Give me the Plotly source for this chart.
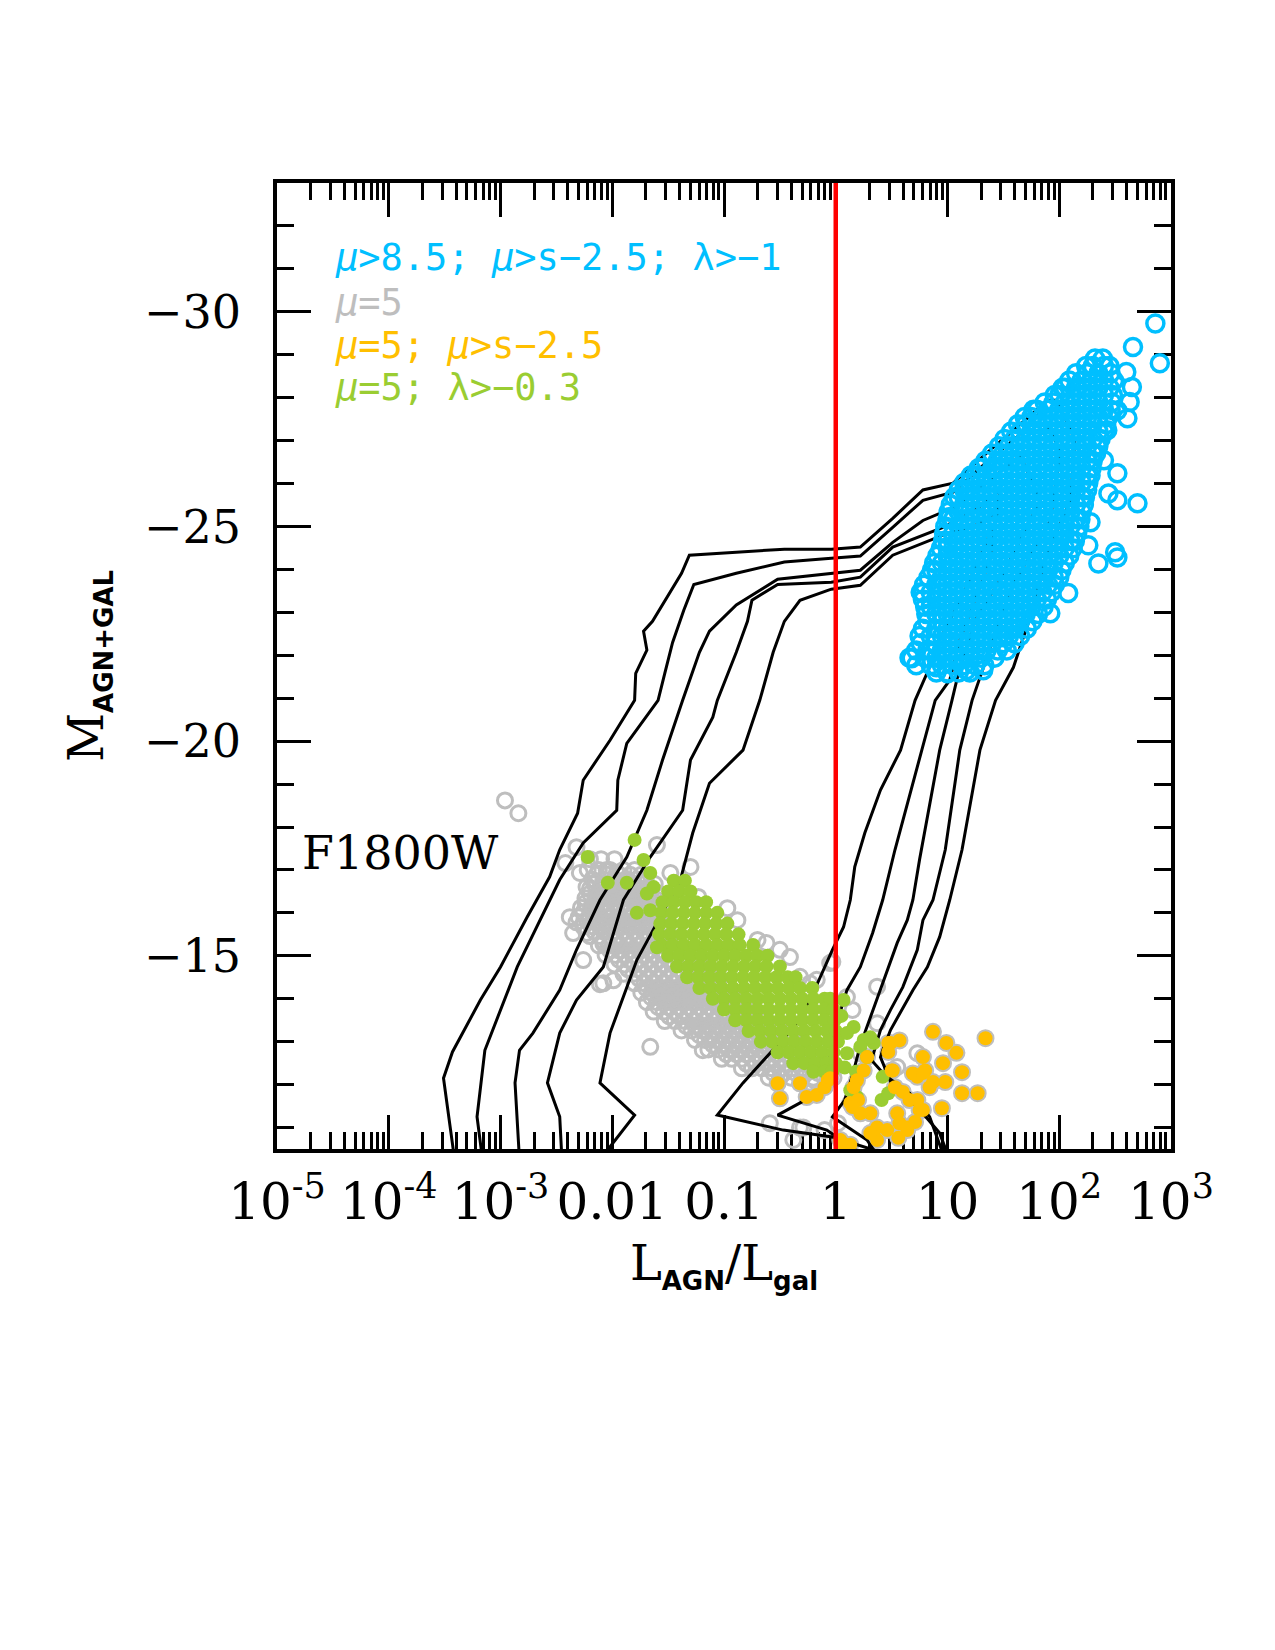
import plotly.graph_objects as go

# ---------------- data : log10(L_AGN/L_gal) and absolute magnitude ----------------
# evolutionary tracks (black lines)
TRACK_A_LX = [-3.41, -3.51, -3.43, -3.18, -3.00, -2.76, -2.56, -2.47, -2.31, -2.26, -2.02, -1.80, -1.79, -1.69, -1.72, -1.64,
              -1.38, -1.31, -0.89, -0.46, -0.04, 0.22, 0.51, 0.78, 1.05, 1.35, 1.62, 1.90, 1.98, 2.14, 2.10, 1.87,
              1.74, 1.59, 1.43, 1.29, 1.13, 1.02, 0.93, 0.82, 0.69, 0.58, 0.49, 0.42, 0.40, 0.51, 0.73, 0.93, 1.02]
TRACK_A_M = [-10.24, -12.15, -12.76, -13.97, -14.74, -15.91, -16.84, -17.47, -18.32, -19.09, -20.02, -20.95, -21.58, -22.12, -22.56, -22.79,
             -23.91, -24.33, -24.40, -24.47, -24.47, -24.52, -25.19, -25.85, -26.01, -26.71, -27.31, -27.94, -27.94, -27.01, -25.61, -24.22,
             -22.89, -21.72, -20.95, -19.79, -17.47, -16.30, -15.44, -14.74, -14.20, -13.67, -13.27, -12.80, -12.64, -11.94, -11.48, -10.87, -10.24]

TRACK_B_LX = [-3.16, -3.21, -3.14, -2.85, -2.47, -2.26, -1.96, -1.95, -1.87, -1.59, -1.53, -1.46, -1.36, -1.27, -0.89, -0.46,
              -0.04, 0.22, 0.51, 0.78, 1.05, 1.35, 1.62, 1.83, 2.01, 1.92, 1.56,
              1.32, 1.22, 1.11, 0.98, 0.87, 0.78, 0.73, 0.60, 0.49, 0.40, 0.32, 0.44, 0.66, 0.84, 0.98]
TRACK_B_M = [-10.24, -11.25, -12.80, -14.74, -16.77, -17.63, -18.39, -19.09, -19.95, -20.95, -21.58, -22.30, -23.05, -23.65, -23.91, -24.17,
             -24.26, -24.31, -24.98, -25.61, -25.80, -26.50, -27.08, -27.66, -26.77, -25.14, -23.52,
             -21.72, -20.95, -19.79, -17.47, -16.30, -15.83, -15.14, -14.27, -13.74, -13.27, -12.57, -12.22, -11.80, -11.25, -10.24]

TRACK_C_LX = [-2.83, -2.87, -2.83, -2.71, -2.47, -2.32, -2.11, -1.87, -1.69, -1.55, -1.37, -1.22, -1.13, -0.89, -0.52, -0.04,
              0.22, 0.51, 0.78, 1.11, 1.38, 1.65, 1.83, 1.47, 1.25,
              1.11, 1.04, 0.93, 0.75, 0.69, 0.64, 0.55, 0.42, 0.31, 0.22, 0.15, 0.08, -0.03, 0.28, 0.40]
TRACK_C_M = [-10.24, -12.04, -12.80, -13.20, -14.20, -15.14, -16.30, -17.30, -18.39, -19.56, -20.95, -22.07, -22.56, -23.17, -23.77, -23.91,
             -23.98, -24.63, -25.14, -25.50, -26.08, -26.66, -25.61, -23.75, -22.82,
             -21.72, -20.95, -19.79, -17.24, -16.30, -15.83, -15.30, -14.36, -13.57, -12.92, -12.22, -11.64, -11.25, -10.71, -10.24]

TRACK_D_LX = [-2.45, -2.47, -2.58, -2.47, -2.32, -2.08, -1.90, -1.66, -1.37, -1.30, -1.10, -1.06, -0.89, -0.79, -0.75, -0.52,
              -0.04, 0.22, 0.51, 0.96, 1.25, 1.47, 1.38, 1.11,
              1.02, 0.89, 0.77, 0.53, 0.42, 0.33, 0.22, 0.10, -0.01, -0.11, -0.52, -0.08, 0.31]
TRACK_D_M = [-10.24, -11.25, -12.04, -13.20, -13.97, -14.74, -16.30, -17.30, -18.39, -19.56, -20.56, -20.95, -22.07, -22.79, -23.28, -23.65,
             -23.70, -23.82, -24.52, -24.98, -25.38, -25.85, -24.22, -22.35,
             -21.42, -20.95, -19.79, -17.47, -16.30, -15.53, -14.74, -14.20, -13.27, -11.87, -11.29, -10.94, -10.24]

TRACK_E_LX = [-2.02, -2.02, -1.80, -2.11, -2.02, -1.78, -1.39, -1.28, -1.13, -0.83, -0.68, -0.56, -0.46, -0.32, -0.04, 0.22,
              0.51, 0.96, 1.25, 1.47, 1.20, 0.93,
              0.84, 0.71, 0.58, 0.40, 0.26, 0.17, 0.13, 0.07, -0.03, -0.17, -0.32, -0.59, -0.83, -1.06, -0.47, -0.03, 0.40, 0.58]
TRACK_E_M = [-10.24, -10.55, -11.29, -12.04, -13.20, -14.90, -16.77, -17.86, -19.02, -19.79, -20.95, -22.07, -22.79, -23.28, -23.54, -23.63,
             -24.33, -24.80, -25.03, -25.38, -23.75, -22.35,
             -21.72, -20.95, -19.79, -18.86, -17.86, -17.07, -16.30, -15.67, -15.14, -14.32, -13.50, -12.74, -12.04, -11.29, -10.94, -10.78, -10.43, -10.24]

TRACKS = [(TRACK_A_LX, TRACK_A_M), (TRACK_B_LX, TRACK_B_M), (TRACK_C_LX, TRACK_C_M),
          (TRACK_D_LX, TRACK_D_M), (TRACK_E_LX, TRACK_E_M)]

# mu>8.5; mu>s-2.5; lambda>-1   (blue open circles), rows of (M, [log10 ratio])
BLUE_ROWS = [
    (-21.60, [0.90, 1.00, 1.10, 1.20]),
    (-21.77, [0.72, 0.85, 0.95, 1.05, 1.15, 1.25, 1.33]),
    (-21.94, [0.66, 0.80, 0.90, 1.00, 1.10, 1.20, 1.30, 1.42]),
    (-22.11, [0.72, 0.85, 0.95, 1.05, 1.15, 1.25, 1.35, 1.45, 1.53]),
    (-22.28, [0.76, 0.89, 1.00, 1.10, 1.20, 1.30, 1.40, 1.50, 1.60]),
    (-22.45, [0.75, 0.85, 0.95, 1.05, 1.15, 1.25, 1.35, 1.45, 1.55, 1.65]),
    (-22.62, [0.78, 0.90, 1.00, 1.10, 1.20, 1.30, 1.40, 1.50, 1.60, 1.71]),
    (-22.79, [0.82, 0.95, 1.05, 1.15, 1.25, 1.35, 1.45, 1.55, 1.65, 1.76]),
    (-22.96, [0.81, 0.90, 1.00, 1.10, 1.20, 1.30, 1.40, 1.50, 1.60, 1.70, 1.81]),
    (-23.13, [0.80, 0.85, 0.95, 1.05, 1.15, 1.25, 1.35, 1.45, 1.55, 1.65, 1.75, 1.86]),
    (-23.30, [0.78, 0.90, 1.00, 1.10, 1.20, 1.30, 1.40, 1.50, 1.60, 1.70, 1.80, 1.89]),
    (-23.47, [0.76, 0.85, 0.95, 1.05, 1.15, 1.25, 1.35, 1.45, 1.55, 1.65, 1.75, 1.85, 1.93]),
    (-23.64, [0.79, 0.90, 1.00, 1.10, 1.20, 1.30, 1.40, 1.50, 1.60, 1.70, 1.80, 1.90, 1.96]),
    (-23.81, [0.83, 0.95, 1.05, 1.15, 1.25, 1.35, 1.45, 1.55, 1.65, 1.75, 1.85, 1.95, 2.00]),
    (-23.98, [0.86, 0.90, 1.00, 1.10, 1.20, 1.30, 1.40, 1.50, 1.60, 1.70, 1.80, 1.90, 2.02]),
    (-24.15, [0.88, 0.95, 1.05, 1.15, 1.25, 1.35, 1.45, 1.55, 1.65, 1.75, 1.85, 1.95, 2.05]),
    (-24.32, [0.91, 1.00, 1.10, 1.20, 1.30, 1.40, 1.50, 1.60, 1.70, 1.80, 1.90, 2.00, 2.09]),
    (-24.49, [0.94, 1.05, 1.15, 1.25, 1.35, 1.45, 1.55, 1.65, 1.75, 1.85, 1.95, 2.05, 2.12]),
    (-24.66, [0.96, 1.00, 1.10, 1.20, 1.30, 1.40, 1.50, 1.60, 1.70, 1.80, 1.90, 2.00, 2.10, 2.14]),
    (-24.83, [0.97, 1.05, 1.15, 1.25, 1.35, 1.45, 1.55, 1.65, 1.75, 1.85, 1.95, 2.05, 2.16]),
    (-25.00, [0.98, 1.10, 1.20, 1.30, 1.40, 1.50, 1.60, 1.70, 1.80, 1.90, 2.00, 2.10, 2.18]),
    (-25.17, [1.00, 1.05, 1.15, 1.25, 1.35, 1.45, 1.55, 1.65, 1.75, 1.85, 1.95, 2.05, 2.15, 2.19]),
    (-25.34, [1.01, 1.10, 1.20, 1.30, 1.40, 1.50, 1.60, 1.70, 1.80, 1.90, 2.00, 2.10, 2.20]),
    (-25.51, [1.03, 1.15, 1.25, 1.35, 1.45, 1.55, 1.65, 1.75, 1.85, 1.95, 2.05, 2.15, 2.22]),
    (-25.68, [1.06, 1.10, 1.20, 1.30, 1.40, 1.50, 1.60, 1.70, 1.80, 1.90, 2.00, 2.10, 2.20, 2.23]),
    (-25.85, [1.10, 1.15, 1.25, 1.35, 1.45, 1.55, 1.65, 1.75, 1.85, 1.95, 2.05, 2.15, 2.25]),
    (-26.02, [1.15, 1.20, 1.30, 1.40, 1.50, 1.60, 1.70, 1.80, 1.90, 2.00, 2.10, 2.20, 2.26]),
    (-26.19, [1.21, 1.25, 1.35, 1.45, 1.55, 1.65, 1.75, 1.85, 1.95, 2.05, 2.15, 2.25, 2.28]),
    (-26.36, [1.28, 1.30, 1.40, 1.50, 1.60, 1.70, 1.80, 1.90, 2.00, 2.10, 2.20, 2.29]),
    (-26.53, [1.34, 1.45, 1.55, 1.65, 1.75, 1.85, 1.95, 2.05, 2.15, 2.25, 2.30]),
    (-26.70, [1.40, 1.50, 1.60, 1.70, 1.80, 1.90, 2.00, 2.10, 2.20, 2.30, 2.33]),
    (-26.87, [1.46, 1.55, 1.65, 1.75, 1.85, 1.95, 2.05, 2.15, 2.25, 2.35]),
    (-27.04, [1.51, 1.60, 1.70, 1.80, 1.90, 2.00, 2.10, 2.20, 2.30, 2.37]),
    (-27.21, [1.57, 1.65, 1.75, 1.85, 1.95, 2.05, 2.15, 2.25, 2.35, 2.40]),
    (-27.38, [1.63, 1.70, 1.80, 1.90, 2.00, 2.10, 2.20, 2.30, 2.42]),
    (-27.55, [1.69, 1.75, 1.85, 1.95, 2.05, 2.15, 2.25, 2.35, 2.44]),
    (-27.72, [1.77, 1.80, 1.90, 2.00, 2.10, 2.20, 2.30, 2.40, 2.46]),
    (-27.89, [1.87, 1.95, 2.05, 2.15, 2.25, 2.35, 2.47]),
    (-28.06, [1.96, 2.00, 2.10, 2.20, 2.30, 2.40, 2.48]),
    (-28.23, [2.03, 2.05, 2.15, 2.25, 2.35, 2.45]),
    (-28.40, [2.09, 2.20, 2.30, 2.40, 2.49]),
    (-28.57, [2.15, 2.25, 2.35, 2.46]),
    (-28.74, [2.24, 2.30, 2.40, 2.45]),
    (-28.91, [2.32, 2.39]),
]
BLUE_EXTRA_LX = [2.86, 2.66, 2.90, 2.60, 2.65, 2.63, 2.61, 2.52, 2.43, 2.52, 2.40, 2.34, 2.52, 2.70, 2.44, 2.28, 2.26, 2.35,
                 2.52, 2.08, 1.92, 1.50, 1.32, 1.17, 1.00, 0.90, 0.68, 0.82, 0.78, 0.90, 1.02, 1.17, 1.00, 2.50]
BLUE_EXTRA_M = [-29.73, -29.18, -28.80, -28.60, -28.25, -27.90, -27.52, -27.70, -27.24, -26.24, -26.54, -26.85, -25.61, -25.54,
                -25.77, -25.10, -24.56, -24.14, -24.28, -23.45, -22.98, -22.42, -21.65, -21.65, -21.58, -21.72, -21.93, -22.12,
                -23.45, -22.98, -25.22, -25.85, -24.52, -24.40]

# mu=5 (grey open circles)
GRAY_ROWS = [
    (-17.25, [-2.20, -2.10, -1.98]),
    (-17.00, [-2.22, -2.12, -2.02, -1.90, -1.80]),
    (-16.89, [-2.14, -2.04, -1.94, -1.84, -1.74]),
    (-16.78, [-2.18, -2.08, -1.98, -1.88, -1.78, -1.70]),
    (-16.67, [-2.16, -2.07, -1.98, -1.89, -1.80, -1.71, -1.62]),
    (-16.56, [-2.20, -2.11, -2.02, -1.93, -1.84, -1.75, -1.66]),
    (-16.45, [-2.20, -2.11, -2.02, -1.93, -1.84, -1.75, -1.66, -1.58]),
    (-16.34, [-2.24, -2.15, -2.06, -1.97, -1.88, -1.79, -1.70, -1.62]),
    (-16.23, [-2.24, -2.15, -2.06, -1.97, -1.88, -1.79, -1.70, -1.61]),
    (-16.12, [-2.28, -2.19, -2.10, -2.01, -1.92, -1.83, -1.74, -1.65, -1.56]),
    (-16.01, [-2.26, -2.17, -2.08, -1.99, -1.90, -1.81, -1.72, -1.63]),
    (-15.90, [-2.30, -2.21, -2.12, -2.03, -1.94, -1.85, -1.76, -1.67, -1.58]),
    (-15.79, [-2.22, -2.13, -2.04, -1.95, -1.86, -1.77, -1.68, -1.59]),
    (-15.68, [-2.26, -2.17, -2.08, -1.99, -1.90, -1.81, -1.72, -1.63, -1.54]),
    (-15.57, [-2.16, -2.07, -1.98, -1.89, -1.80, -1.71, -1.62, -1.53]),
    (-15.46, [-2.20, -2.11, -2.02, -1.93, -1.84, -1.75, -1.66, -1.57, -1.48]),
    (-15.35, [-2.08, -1.99, -1.90, -1.81, -1.72, -1.63, -1.54, -1.45]),
    (-15.24, [-2.12, -2.03, -1.94, -1.85, -1.76, -1.67, -1.58, -1.49, -1.40]),
    (-15.13, [-2.02, -1.93, -1.84, -1.75, -1.66, -1.57, -1.48, -1.39, -1.30]),
    (-15.02, [-2.06, -1.97, -1.88, -1.79, -1.70, -1.61, -1.52, -1.43, -1.34, -1.25]),
    (-14.91, [-1.94, -1.85, -1.76, -1.67, -1.58, -1.49, -1.40, -1.31, -1.22]),
    (-14.80, [-1.98, -1.89, -1.80, -1.71, -1.62, -1.53, -1.44, -1.35, -1.26, -1.17]),
    (-14.69, [-1.86, -1.77, -1.68, -1.59, -1.50, -1.41, -1.32, -1.23, -1.14]),
    (-14.58, [-1.90, -1.81, -1.72, -1.63, -1.54, -1.45, -1.36, -1.27, -1.18, -1.09]),
    (-14.47, [-1.76, -1.67, -1.58, -1.49, -1.40, -1.31, -1.22, -1.13, -1.04]),
    (-14.36, [-1.80, -1.71, -1.62, -1.53, -1.44, -1.35, -1.26, -1.17, -1.08, -0.99]),
    (-14.25, [-1.70, -1.61, -1.52, -1.43, -1.34, -1.25, -1.16, -1.07, -0.98]),
    (-14.14, [-1.74, -1.65, -1.56, -1.47, -1.38, -1.29, -1.20, -1.11, -1.02, -0.93]),
    (-14.03, [-1.65, -1.56, -1.47, -1.38, -1.29, -1.20, -1.11, -1.02, -0.93, -0.84]),
    (-13.92, [-1.69, -1.60, -1.51, -1.42, -1.33, -1.24, -1.15, -1.06, -0.97, -0.88, -0.80]),
    (-13.81, [-1.59, -1.50, -1.41, -1.32, -1.23, -1.14, -1.05, -0.96, -0.87, -0.78]),
    (-13.70, [-1.63, -1.54, -1.45, -1.36, -1.27, -1.18, -1.09, -1.00, -0.91, -0.82, -0.73]),
    (-13.59, [-1.49, -1.40, -1.31, -1.22, -1.13, -1.04, -0.95, -0.86, -0.77, -0.68]),
    (-13.48, [-1.53, -1.44, -1.35, -1.26, -1.17, -1.08, -0.99, -0.90, -0.81, -0.72, -0.63]),
    (-13.37, [-1.34, -1.25, -1.16, -1.07, -0.98, -0.89, -0.80, -0.71, -0.62, -0.54]),
    (-13.26, [-1.38, -1.29, -1.20, -1.11, -1.02, -0.93, -0.84, -0.75, -0.66, -0.57, -0.50]),
    (-13.15, [-1.22, -1.13, -1.04, -0.95, -0.86, -0.77, -0.68, -0.59, -0.50, -0.42]),
    (-13.04, [-1.26, -1.17, -1.08, -0.99, -0.90, -0.81, -0.72, -0.63, -0.54, -0.45, -0.38]),
    (-12.93, [-1.10, -1.01, -0.92, -0.83, -0.74, -0.65, -0.56, -0.47, -0.38, -0.30]),
    (-12.82, [-1.14, -1.05, -0.96, -0.87, -0.78, -0.69, -0.60, -0.51, -0.42, -0.33, -0.26]),
    (-12.71, [-0.98, -0.89, -0.80, -0.71, -0.62, -0.53, -0.44, -0.35, -0.26, -0.17]),
    (-12.60, [-1.02, -0.93, -0.84, -0.75, -0.66, -0.57, -0.48, -0.39, -0.30, -0.21, -0.12]),
    (-12.49, [-0.80, -0.71, -0.62, -0.53, -0.44, -0.35, -0.26, -0.17, -0.08]),
    (-12.38, [-0.84, -0.75, -0.66, -0.57, -0.48, -0.39, -0.30, -0.21, -0.12, -0.04]),
    (-12.27, [-0.56, -0.46, -0.36, -0.26, -0.16, -0.06]),
    (-12.16, [-0.60, -0.50, -0.40, -0.30, -0.20, -0.10, -0.02]),
]
GRAY_EXTRA_LX = [-2.96, -2.84, -2.42, -2.32, -2.29, -2.23, -2.14, -2.38, -2.32, -2.35, -2.23, -2.26, -2.08, -2.08, -1.99, -2.17,
                 -2.05, -1.96, -1.90, -1.60, -1.48, -1.30, -1.23, -0.97, -0.88, -0.70, -0.62, -0.50, -0.41, -0.32, -0.17,
                 -0.05, -0.23, 0.10, 0.15, 0.37, 0.22, 0.37, 0.73, 0.55, -0.19, -0.32, -0.10, 0.02, -0.38, -0.29, -0.59,
                 -1.66, -1.19, -2.11, -0.03]
GRAY_EXTRA_M = [-18.62, -18.32, -17.16, -17.53, -16.93, -16.60, -16.71, -15.90, -15.78, -15.53, -15.53, -14.90, -15.28, -14.36,
                -14.43, -16.13, -17.00, -16.93, -16.70, -17.58, -16.93, -17.07, -16.37, -16.11, -15.83, -15.37, -15.30, -15.14,
                -14.97, -14.51, -14.44, -14.83, -14.36, -14.04, -13.74, -13.43, -12.73, -14.28, -12.73, -12.41, -12.10, -11.00,
                -10.94, -11.10, -10.71, -11.00, -11.10, -12.88, -12.80, -14.34, -14.86]

# mu=5; lambda>-0.3 (green filled)
GREEN_ROWS = [
    (-16.75, [-1.45, -1.35]),
    (-16.50, [-1.50, -1.40, -1.30]),
    (-16.25, [-1.55, -1.45, -1.35, -1.25, -1.16]),
    (-16.00, [-1.56, -1.46, -1.36, -1.26, -1.16, -1.06]),
    (-15.75, [-1.57, -1.47, -1.37, -1.27, -1.17, -1.07, -0.97]),
    (-15.50, [-1.58, -1.48, -1.38, -1.28, -1.18, -1.08, -0.98, -0.87]),
    (-15.25, [-1.56, -1.46, -1.36, -1.26, -1.16, -1.06, -0.96, -0.86, -0.74]),
    (-15.00, [-1.50, -1.40, -1.30, -1.20, -1.10, -1.00, -0.90, -0.80, -0.70, -0.61]),
    (-14.75, [-1.42, -1.32, -1.22, -1.12, -1.02, -0.92, -0.82, -0.72, -0.62, -0.50]),
    (-14.50, [-1.33, -1.23, -1.13, -1.03, -0.93, -0.83, -0.73, -0.63, -0.53, -0.43, -0.36]),
    (-14.25, [-1.22, -1.12, -1.02, -0.92, -0.82, -0.72, -0.62, -0.52, -0.42, -0.32, -0.21]),
    (-14.00, [-1.10, -1.00, -0.90, -0.80, -0.70, -0.60, -0.50, -0.40, -0.30, -0.20, -0.10, -0.05]),
    (-13.75, [-1.00, -0.90, -0.80, -0.70, -0.60, -0.50, -0.40, -0.30, -0.20, -0.10, -0.02]),
    (-13.50, [-0.90, -0.80, -0.70, -0.60, -0.50, -0.40, -0.30, -0.20, -0.10, -0.01]),
    (-13.25, [-0.78, -0.68, -0.58, -0.48, -0.38, -0.28, -0.18, -0.08, 0.00]),
    (-13.00, [-0.67, -0.57, -0.47, -0.37, -0.27, -0.17, -0.07, 0.02]),
    (-12.75, [-0.52, -0.42, -0.32, -0.22, -0.12, -0.02]),
    (-12.50, [-0.38, -0.28, -0.18, -0.08, 0.00]),
    (-12.30, [-0.20, -0.10, -0.03]),
]
GREEN_EXTRA_LX = [-1.80, -2.22, -1.72, -1.66, -2.04, -1.87, -1.63, -1.69, -1.66, -1.78, -1.60, 0.07, 0.16, 0.25, 0.34, 0.28,
                  0.10, 0.13, 0.19, 0.42, 0.41, 0.47, 0.10, 0.22, 0.31, 0.05, 0.08, 0.18]
GREEN_EXTRA_M = [-17.70, -17.30, -17.23, -16.93, -16.70, -16.70, -16.60, -16.45, -16.06, -16.00, -15.20, -13.97, -13.34, -13.04,
                 -12.97, -12.64, -12.73, -11.87, -11.71, -12.18, -11.64, -11.80, -13.20, -12.88, -13.10, -13.60, -12.40, -12.30]

# mu=5; mu>s-2.5 (orange filled)
ORANGE_LX = [0.87, 1.34, 0.99, 1.08, 0.78, 0.57, 0.47, 0.47, 0.96, 1.13, 0.50, 0.69, 0.80, 0.87, 0.98, 0.53, 0.60, 0.66,
             0.75, 0.95, 1.13, 1.27, 0.28, 0.25, 0.19, 0.16, 0.13, 0.20, 0.31, 0.37, 0.37, 0.46, 0.55, 0.57, 0.64, 0.56,
             0.71, -0.32, -0.26, -0.17, -0.10, -0.07, 0.04, 0.13, -0.52, -0.50, -0.05, 0.06, 0.15, 0.22, 0.31, 0.49,
             0.51, 0.73, 0.78, 0.84, 0.73, 0.78, 0.64]
ORANGE_M = [-13.23, -13.08, -12.97, -12.74, -12.64, -13.03, -12.97, -12.76, -12.50, -12.29, -12.33, -12.26, -12.33, -12.06,
            -12.06, -11.94, -11.83, -11.64, -11.41, -11.45, -11.80, -11.80, -12.64, -12.33, -12.10, -11.94, -11.57, -11.64,
            -11.33, -11.00, -10.71, -10.94, -11.33, -11.10, -11.00, -10.76, -11.13, -12.03, -11.71, -11.76, -11.94, -12.10,
            -10.71, -10.60, -12.03, -11.68, -12.15, -10.64, -11.48, -11.33, -10.87, -12.97, -12.33, -12.18, -12.27, -11.94,
            -11.64, -11.41, -10.94]

X_TICKS = [1e-5, 1e-4, 1e-3, 0.01, 0.1, 1, 10, 100, 1000]
X_TICKTEXT = ["10<sup>-5</sup>", "10<sup>-4</sup>", "10<sup>-3</sup>", "0.01", "0.1", "1", "10",
              "10<sup>2</sup>", "10<sup>3</sup>"]
Y_TICKS = [-30, -25, -20, -15]
Y_TICKTEXT = ["\u221230", "\u221225", "\u221220", "\u221215"]
X_RANGE_LOG = [-5, 3]
Y_RANGE = [-10.5, -33]
THRESHOLD = 1.0

LEGEND = [("<i>\u03bc</i>>8.5; <i>\u03bc</i>>s\u22122.5; \u03bb>\u22121", "#00BFFF", -31.27),
          ("<i>\u03bc</i>=5", "#BEBEBE", -30.22),
          ("<i>\u03bc</i>=5; <i>\u03bc</i>>s\u22122.5", "#FFBF00", -29.22),
          ("<i>\u03bc</i>=5; \u03bb>\u22120.3", "#9ACD32", -28.24)]

SUB = "<sub><b><span style='font-family:DejaVu Sans;font-size:26px'>{}</span></b></sub>"


def rows_xy(rows):
    xs, ys = [], []
    for m, lxs in rows:
        for lx in lxs:
            xs.append(10 ** lx)
            ys.append(m)
    return xs, ys


def pow10(v):
    return [10 ** a for a in v]


fig = go.Figure()

bx, by = rows_xy(BLUE_ROWS)
bx += pow10(BLUE_EXTRA_LX)
by += BLUE_EXTRA_M
gx, gy = rows_xy(GRAY_ROWS)
gx += pow10(GRAY_EXTRA_LX) + pow10(ORANGE_LX)
gy += GRAY_EXTRA_M + ORANGE_M
grx, gry = rows_xy(GREEN_ROWS)
grx += pow10(GREEN_EXTRA_LX)
gry += GREEN_EXTRA_M

# grey (all mu=5)
fig.add_trace(go.Scatter(x=gx, y=gy, mode="markers",
                         marker=dict(symbol="circle-open", size=15, color="#BEBEBE", line=dict(width=3, color="#BEBEBE"))))
# tracks
for lx, m in TRACKS:
    fig.add_trace(go.Scatter(x=pow10(lx), y=m, mode="lines", line=dict(color="black", width=3)))
# green
fig.add_trace(go.Scatter(x=grx, y=gry, mode="markers", marker=dict(symbol="circle", size=14, color="#9ACD32")))
# orange
fig.add_trace(go.Scatter(x=pow10(ORANGE_LX), y=ORANGE_M, mode="markers",
                         marker=dict(symbol="circle", size=14, color="#FFBF00")))
# blue
fig.add_trace(go.Scatter(x=bx, y=by, mode="markers",
                         marker=dict(symbol="circle-open", size=17, color="#00BFFF", line=dict(width=3.5, color="#00BFFF"))))
# threshold L_AGN = L_gal
fig.add_trace(go.Scatter(x=[THRESHOLD, THRESHOLD], y=Y_RANGE, mode="lines", line=dict(color="red", width=4.5)))

minor_x = [k * 10 ** d for d in range(-5, 3) for k in range(2, 10)]

axis_common = dict(showline=True, linewidth=3.5, linecolor="black", mirror="allticks", ticks="inside",
                   ticklen=34, tickwidth=3, tickcolor="black", showgrid=False, zeroline=False,
                   layer="below traces")

fig.update_layout(
    width=1275, height=1650,
    margin=dict(l=277, r=104, t=183, b=501, autoexpand=False),
    plot_bgcolor="white", paper_bgcolor="white", showlegend=False,
    xaxis=dict(type="log", range=X_RANGE_LOG, tickmode="array", tickvals=X_TICKS, ticktext=X_TICKTEXT,
               tickfont=dict(family="DejaVu Serif", size=50, color="black"), ticklabelstandoff=6,
               minor=dict(ticks="inside", ticklen=17, tickwidth=2.5, tickcolor="black", tickmode="array",
                          tickvals=minor_x, showgrid=False),
               title=dict(text="L" + SUB.format("AGN") + "/L" + SUB.format("gal"),
                          font=dict(family="DejaVu Serif", size=48, color="black"), standoff=18),
               automargin=False, **axis_common),
    yaxis=dict(range=Y_RANGE, tickmode="array", tickvals=Y_TICKS, ticktext=Y_TICKTEXT,
               tickfont=dict(family="DejaVu Serif", size=46, color="black"), ticklabelstandoff=23,
               minor=dict(ticks="inside", ticklen=17, tickwidth=2.5, tickcolor="black", dtick=1, tick0=0,
                          showgrid=False),
               title=dict(text="M" + SUB.format("AGN+GAL"),
                          font=dict(family="DejaVu Serif", size=48, color="black"), standoff=26),
               automargin=False, **axis_common),
)

annotations = [dict(x=-4.794, y=-17.39, xref="x", yref="y", text="F1800W", showarrow=False, xanchor="left",
                    yanchor="middle", font=dict(family="DejaVu Serif", size=46, color="black"))]
for txt, col, m in LEGEND:
    annotations.append(dict(x=-4.5, y=m, xref="x", yref="y", text=txt, showarrow=False, xanchor="left",
                            yanchor="middle", font=dict(family="DejaVu Sans Mono", size=37, color=col)))
fig.update_layout(annotations=annotations)

fig.write_html("out.html")
